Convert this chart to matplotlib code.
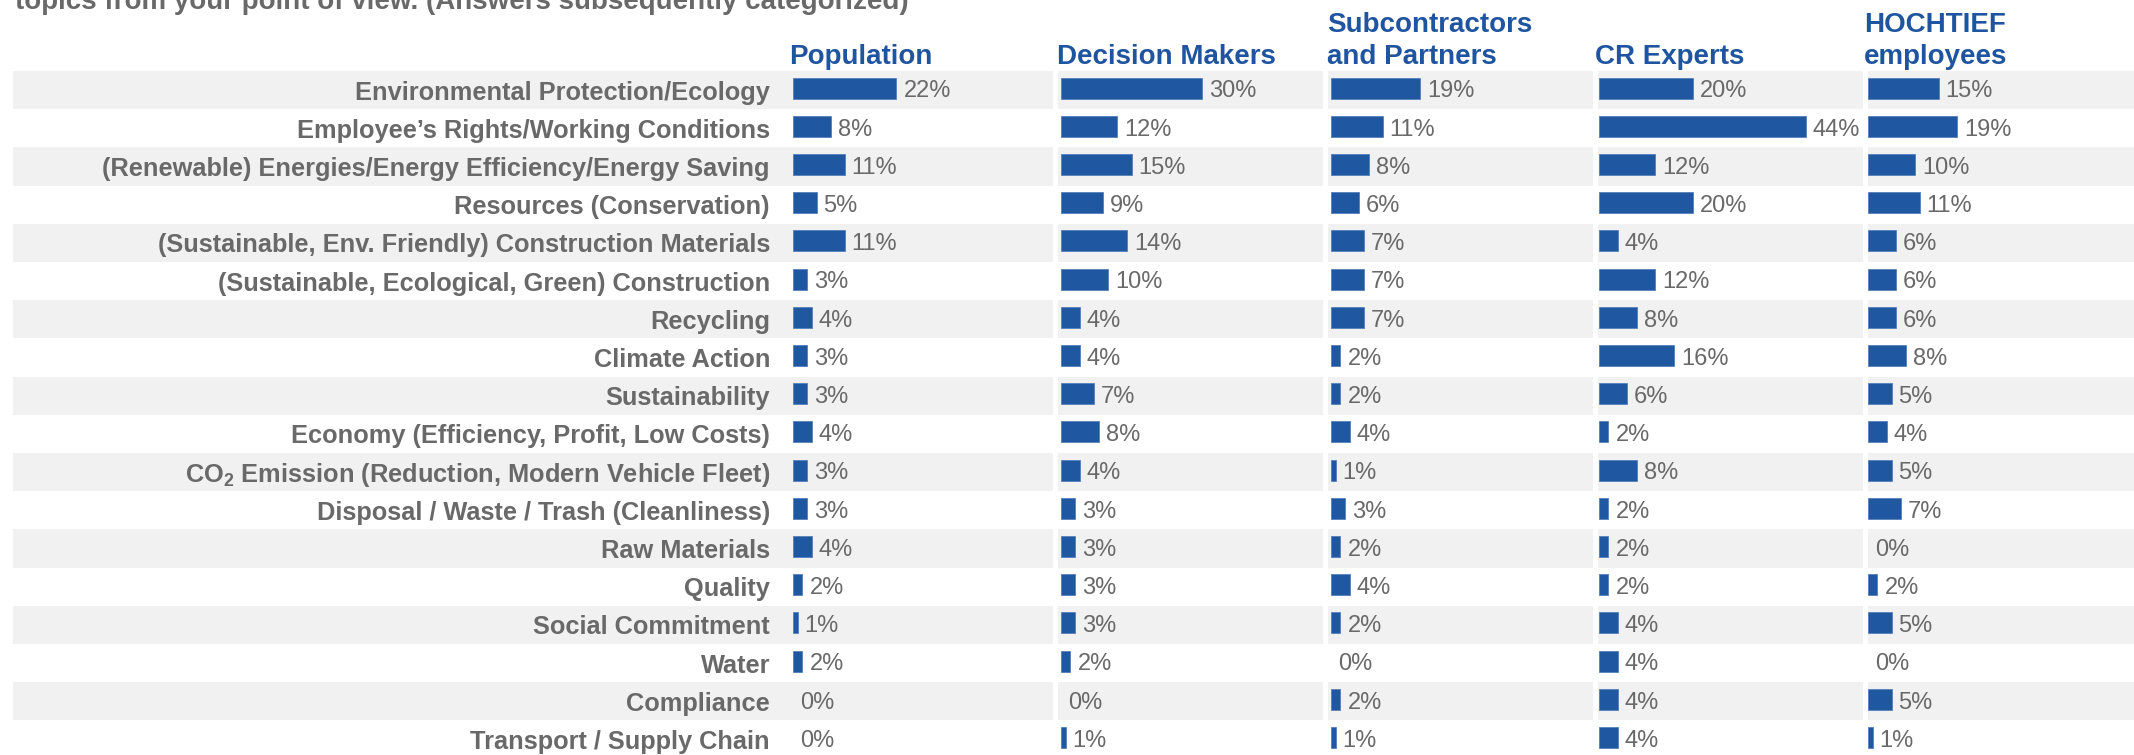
import matplotlib
matplotlib.use('Agg')
import matplotlib.pyplot as plt

plt.rcParams['font.family'] = ['Liberation Sans', 'DejaVu Sans']
plt.rcParams['mathtext.fontset'] = 'custom'
plt.rcParams['mathtext.rm'] = 'Liberation Sans:bold'
plt.rcParams['mathtext.bf'] = 'Liberation Sans:bold'

title = 'topics from your point of view. (Answers subsequently categorized)'

topics = [
    'Environmental Protection/Ecology',
    'Employee’s Rights/Working Conditions',
    '(Renewable) Energies/Energy Efficiency/Energy Saving',
    'Resources (Conservation)',
    '(Sustainable, Env. Friendly) Construction Materials',
    '(Sustainable, Ecological, Green) Construction',
    'Recycling',
    'Climate Action',
    'Sustainability',
    'Economy (Efficiency, Profit, Low Costs)',
    'CO$_2$ Emission (Reduction, Modern Vehicle Fleet)',
    'Disposal / Waste / Trash (Cleanliness)',
    'Raw Materials',
    'Quality',
    'Social Commitment',
    'Water',
    'Compliance',
    'Transport / Supply Chain',
]

groups = ['Population', 'Decision Makers', 'Subcontractors\nand Partners', 'CR Experts', 'HOCHTIEF\nemployees']

population = [22, 8, 11, 5, 11, 3, 4, 3, 3, 4, 3, 3, 4, 2, 1, 2, 0, 0]
decision_makers = [30, 12, 15, 9, 14, 10, 4, 4, 7, 8, 4, 3, 3, 3, 3, 2, 0, 1]
subcontractors = [19, 11, 8, 6, 7, 7, 7, 2, 2, 4, 1, 3, 2, 4, 2, 0, 2, 1]
cr_experts = [20, 44, 12, 20, 4, 12, 8, 16, 6, 2, 8, 2, 2, 2, 4, 4, 4, 4]
hochtief = [15, 19, 10, 11, 6, 6, 6, 8, 5, 4, 5, 7, 0, 2, 5, 0, 5, 1]

series = [population, decision_makers, subcontractors, cr_experts, hochtief]

BAR = '#1f57a0'
HEAD = '#1f55a0'
GREY = '#696969'
STRIPE = '#f1f1f1'

W, H = 2134, 755
fig = plt.figure(figsize=(W / 100, H / 100), dpi=100)

# panel geometry in pixels
left_px = [13, 1058, 1328, 1598, 1868]
right_px = [1053, 1323, 1593, 1863, 2134]
bar0_px = [793, 1061, 1331, 1599, 1868]
ppp = 4.7          # pixels per percent
row_top, row_h = 71, 38.2
n = len(topics)

ax_h = n * row_h
for k, vals in enumerate(series):
    l, r, b = left_px[k], right_px[k], bar0_px[k]
    ax = fig.add_axes([l / W, (H - row_top - ax_h) / H, (r - l) / W, ax_h / H])
    ax.set_xlim(-(b - l) / ppp, (r - b) / ppp)
    ax.set_ylim(n - 0.5, -0.5)
    ax.axis('off')
    for i in range(0, n, 2):
        ax.axhspan(i - 0.5, i + 0.5, color=STRIPE, lw=0, zorder=0)
    ys = [i - 0.05 for i in range(n)]
    ax.barh(ys, vals, height=0.55, left=0, color=BAR, edgecolor='#5580bb',
            linewidth=[0.6 if v else 0 for v in vals], zorder=2)
    for i, v in enumerate(vals):
        ax.text(v + 7 / ppp, i + 0.19, f'{v}%', ha='left', va='baseline',
                fontsize=17, color=GREY, zorder=3)
    if k == 0:
        for i, t in enumerate(topics):
            ax.text(-23 / ppp, i + 0.25, t, ha='right', va='baseline',
                    fontsize=18.3, fontweight='bold', color=GREY, zorder=3)

    lines = groups[k].split('\n')
    for j, line in enumerate(reversed(lines)):
        fig.text((b - 4) / W, (H - 64 + 32 * j) / H, line, ha='left', va='baseline',
                 fontsize=20, fontweight='bold', color=HEAD)

fig.text(15 / W, (H - 9) / H, title, ha='left', va='baseline',
         fontsize=20, fontweight='bold', color=GREY)

fig.savefig('out.png', dpi=100)
